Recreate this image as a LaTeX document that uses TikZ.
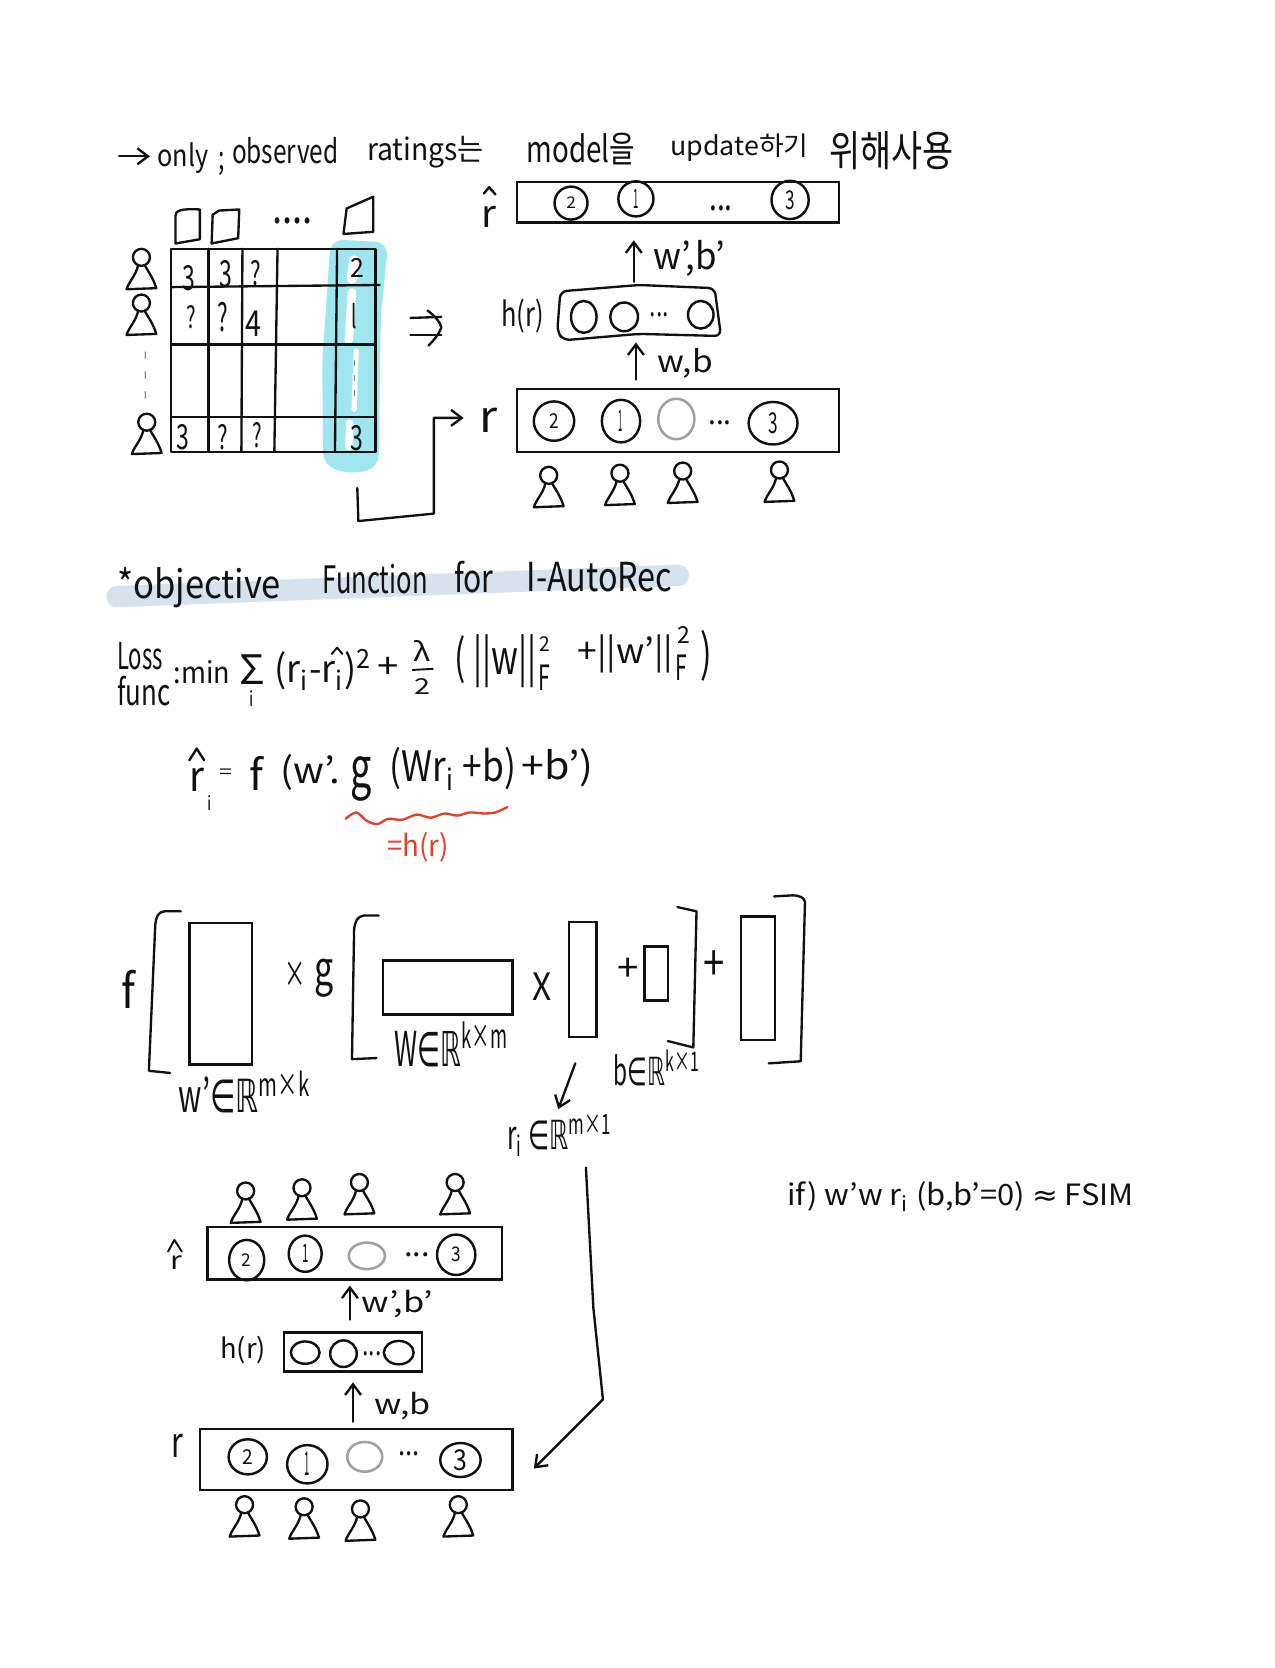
\documentclass[tikz,border=0pt]{standalone}
\usepackage{fontspec}
\usepackage{graphicx}
\setmainfont{Noto Sans CJK KR}
\newfontfamily\symf{DejaVu Sans}
\usetikzlibrary{arrows.meta,shapes.geometric}
\definecolor{ink}{HTML}{111111}
\definecolor{cyanmark}{HTML}{9FE6EF}
\definecolor{bluemark}{HTML}{D6E2ED}
\definecolor{redink}{HTML}{E0412E}
\definecolor{grayink}{HTML}{A0A0A0}
\newcommand{\hw}[6]{\node[anchor=center,inner sep=0pt,text=ink] (#1) at (#2,#3) {\resizebox*{#4pt}{#5pt}{#6}};}
\newcommand{\hwl}[6]{\node[anchor=west,inner sep=0pt,text=ink] (#1) at (#2,#3) {\resizebox*{#4pt}{#5pt}{#6}};}
\newcommand{\hwr}[6]{\node[anchor=west,inner sep=0pt,text=redink] (#1) at (#2,#3) {\resizebox*{#4pt}{#5pt}{#6}};}
\newcommand{\RR}{{\symf ℝ}}
\newcommand{\EL}{{\symf ∈}}
\tikzset{
  pen/.style={draw=ink,line width=2.2pt,line cap=round,line join=round},
  thin pen/.style={draw=ink,line width=1.8pt,line cap=round,line join=round},
  boxnode/.style={draw=ink,line width=2.4pt,inner sep=0pt,fill=none},
  ratecirc/.style={ellipse,draw=ink,line width=2.3pt,inner sep=0pt,text=ink},
  emptycirc/.style={ellipse,draw=grayink,line width=2.4pt,inner sep=0pt},
  holecirc/.style={ellipse,draw=ink,line width=2.3pt,inner sep=0pt},
  arr/.style={pen,-{Straight Barb[length=10pt,width=15pt,line width=2.2pt]}},
  person/.pic={
    \draw[pen] (0,-13) circle (8);
    \draw[pen] (-3,-6) .. controls (-5,4) and (-12,10) .. (-14,17) -- (14,16) .. controls (11,6) and (6,0) .. (3,-6);
  }
}
\begin{document}
\begin{tikzpicture}[x=1pt,y=-1pt]
\useasboundingbox (0,0) rectangle (1199,1568.6);
% --- heading
\coordinate (hs) at (112,147); \coordinate (he) at (141,147);
\draw[arr] (hs) -- (he);
\hwl{t1}{148}{149}{48}{29}{only}
\hwl{t1b}{205}{154}{6}{22}{;}
\hwl{t2}{218}{142}{100}{25}{observed}
\hwl{t3}{345}{143}{110}{30}{ratings는}
\hwl{t4}{495}{140}{102}{30}{model을}
\hwl{t5}{630}{139}{130}{26}{update하기}
\hwl{t6}{780}{142}{117}{36}{위해사용}
% --- matrix highlight
\fill[cyanmark,rounded corners=12pt] (311,225) -- (365,228) -- (358,300) -- (356,440) -- (330,446) -- (304,438) -- (303,340) -- cycle;
\draw[white,line width=10pt,line cap=round] (333,245) -- (331,262);
\draw[white,line width=8pt,line cap=round] (331,275) -- (328,320);
\draw[white,line width=5pt,line cap=round] (335,330) -- (333,385);
\draw[white,line width=7pt,line cap=round] (329,398) -- (328,420);
% --- grid
\draw[pen] (161,234) rectangle (353,425);
\draw[pen] (161,270) -- (357,268);
\draw[pen] (161,324) -- (353,324);
\draw[pen] (161,392) -- (353,392);
\draw[pen] (196,234) -- (196,425);
\draw[pen] (228,234) -- (227,425);
\draw[pen] (261,234) -- (258,425);
\draw[pen] (317,234) -- (315,425);
\hw{c11}{178}{262}{12}{24}{3}
\hw{c12}{212}{258}{12}{26}{3}
\hw{c13}{241}{257}{10}{24}{?}
\hw{c15}{336}{252}{13}{18}{2}
\hw{c21}{180}{298}{9}{22}{?}
\hw{c22}{210}{298}{10}{28}{?}
\hw{c23}{238}{304}{15}{24}{4}
\hw{c25}{333}{297}{5}{24}{l}
\hw{c35}{334}{356}{5}{34}{\symf ⋮}
\hw{c41}{172}{411}{12}{24}{3}
\hw{c42}{210}{411}{10}{24}{?}
\hw{c43}{242}{409}{9}{24}{?}
\hw{c45}{336}{412}{12}{24}{3}
% --- books
\draw[pen] (165,229) -- (165,203) .. controls (165,198) and (170,196) .. (188,197) -- (188,225) -- cycle;
\draw[pen] (199,229) -- (200,202) -- (206,198) -- (225,197) -- (224,224) -- cycle;
\draw[pen] (323,220) -- (326,196) -- (351,185) -- (351,218) -- cycle;
\hw{bdots}{275}{208}{38}{6}{....}
% --- left persons
\pic at (133,255) {person};
\pic at (133,298) {person};
\hw{pd}{137}{353}{6}{44}{\symf ⋮}
\pic at (138,410) {person};
% --- right network, top
\node[boxnode,minimum width=303pt,minimum height=38pt] (rhatA) at (637.5,190) {};
\node[ratecirc,minimum width=31pt,minimum height=31pt] (a2) at (537,191) {\resizebox*{9pt}{11pt}{2}};
\node[ratecirc,minimum width=33pt,minimum height=33pt] (a1) at (598,187) {\resizebox*{5pt}{18pt}{1}};
\hw{adots}{678}{196}{22}{5}{...}
\node[ratecirc,minimum width=35pt,minimum height=36pt] (a3) at (743,188) {\resizebox*{9pt}{18pt}{3}};
\draw[pen] (455,182) -- (460,176) -- (466,183);
\hw{rhatAl}{460}{204}{14}{20}{r}
\coordinate (upA) at (596,265); \coordinate (upB) at (596,226);
\draw[arr] (upA) -- (upB);
\hwl{wbp}{614}{243}{68}{34}{w',b'}
\draw[pen,rounded corners=6pt] (527,274) -- (601,268) -- (672,271) -- (678,316) -- (601,314) -- (530,320) -- (524,312) -- cycle;
\node[holecirc,minimum width=24pt,minimum height=30pt] (h1) at (549,298) {};
\node[holecirc,minimum width=26pt,minimum height=27pt] (h2) at (587,298) {};
\hw{hdots}{620}{296}{18}{4}{...}
\node[holecirc,minimum width=24pt,minimum height=26pt] (h3) at (659,296) {};
\hwl{hrA}{471}{297}{40}{32}{h(r)}
\coordinate (upC) at (598,357); \coordinate (upD) at (598,322);
\draw[arr] (upC) -- (upD);
\hwl{wb}{618}{342}{52}{28}{w,b}
\node[boxnode,minimum width=303pt,minimum height=59pt] (rA) at (637.5,395.5) {};
\node[ratecirc,minimum width=38pt,minimum height=37pt] (r2) at (521,396) {\resizebox*{9pt}{14pt}{2}};
\node[ratecirc,minimum width=36pt,minimum height=40pt] (r1) at (584,396) {\resizebox*{4pt}{20pt}{1}};
\node[emptycirc,minimum width=34pt,minimum height=38pt] (r0) at (636,394) {};
\hw{rdots}{677}{398}{22}{4}{...}
\node[ratecirc,minimum width=46pt,minimum height=40pt] (r3) at (727,398) {\resizebox*{9pt}{20pt}{3}};
\hw{rAl}{459}{395}{17}{23}{r}
\coordinate (lk1) at (336,459); \coordinate (lk2) at (337,490); \coordinate (lk3) at (408,483); \coordinate (lk4) at (408,393); \coordinate (lk5) at (436,393);
\draw[arr] (lk1) -- (lk2) -- (lk3) -- (lk4) -- (lk5);
\draw[pen] (386,299) -- (415,298);
\draw[pen] (386,315) -- (415,315);
\draw[pen] (402,292) .. controls (410,298) and (414,303) .. (415,308) .. controls (413,314) and (408,320) .. (403,325);
\pic at (516,460) {person};
\pic at (583,458) {person};
\pic at (642,456) {person};
\pic at (733,455) {person};
% --- objective heading
\draw[bluemark,line width=20pt,line cap=round] (110,561) -- (638,541);
\hwl{o1}{110}{553}{154}{38}{*objective}
\hwl{o2}{303}{545}{99}{28}{Function}
\hwl{o3}{427}{543}{37}{30}{for}
\hwl{o4}{495}{543}{137}{28}{I-AutoRec}
% --- loss
\hwl{l1}{110}{617}{43}{26}{Loss}
\hwl{l2}{110}{650}{50}{28}{func}
\hwl{l3}{163}{632}{53}{22}{:min}
\hw{l4}{237}{630}{24}{28}{Σ}
\hw{l5}{237}{657}{4}{15}{i}
\hwl{l6}{258}{630}{92}{38}{(r\textsubscript{i}-r\textsubscript{i})\textsuperscript{2}}
\draw[thin pen] (312,615) -- (317,609) -- (322,615);
\hw{l7}{365}{628}{20}{20}{+}
\hw{l8}{397}{612}{16}{20}{λ}
\draw[thin pen] (388,630) -- (407,629);
\hw{l9}{397}{646}{15}{15}{2}
\hwl{l10}{427}{622}{77}{50}{( ||w||}
\hw{l11}{512}{606}{10}{14}{2}
\hw{l12}{512}{637}{11}{24}{F}
\hwl{l13}{543}{615}{90}{36}{+||w'||}
\hw{l14}{643}{597}{12}{16}{2}
\hw{l15}{641}{628}{11}{24}{F}
\hw{l16}{664}{617}{11}{48}{)}
% --- prediction
\draw[pen] (178,715) -- (185,704) -- (192,715);
\hw{e1}{185}{733}{14}{22}{r}
\hw{e2}{197}{755}{4}{14}{i}
\hw{e3}{212}{728}{12}{9}{=}
\hw{e4}{241}{727}{13}{32}{f}
\hwl{e5}{264}{726}{56}{34}{(w'.}
\hw{e6}{340}{733}{20}{42}{g}
\hwl{e7}{366}{723}{119}{40}{(Wr\textsubscript{i} +b)}
\hwl{e8}{490}{722}{68}{36}{+b')}
\draw[draw=redink,line width=2.2pt,line cap=round,line join=round] plot[smooth] coordinates {(325,770)(335,764)(345,772)(355,775)(365,770)(378,771)(392,766)(405,769)(418,765)(430,767)(442,764)(455,765)(466,764)(477,759)};
\hwr{e9}{364}{797}{58}{28}{=h(r)}
% --- matrices
\hw{m1}{121}{930}{13}{36}{f}
\draw[pen] (170,857) -- (155,857) .. controls (148,858) and (147,862) .. (146,870) -- (140,1007) -- (160,1009);
\node[boxnode,minimum width=59pt,minimum height=133pt] (wp) at (207.5,934.5) {};
\hw{m2}{278}{917}{20}{24}{×}
\hw{m3}{305}{920}{18}{36}{g}
\draw[pen] (356,861) -- (342,861) .. controls (336,862) and (334,866) .. (333,874) -- (331,996) -- (354,995);
\node[boxnode,minimum width=122pt,minimum height=51pt] (wm) at (421,928.5) {};
\hw{m4}{510}{928}{18}{26}{X}
\node[boxnode,minimum width=26pt,minimum height=108pt] (rv) at (548,921) {};
\hw{m5}{591}{912}{20}{22}{+}
\node[boxnode,minimum width=22pt,minimum height=51pt] (bv) at (617,915.5) {};
\draw[pen] (637,853) -- (655,857) -- (652,985) -- (628,979);
\hw{m6}{672}{908}{20}{28}{+}
\node[boxnode,minimum width=32pt,minimum height=116pt] (bpv) at (713,920) {};
\draw[pen] (728,843) -- (745,842) .. controls (752,842) and (756,844) .. (757,848) -- (753,998) -- (723,1000);
\hwl{m7}{168}{1027}{124}{40}{w'\EL\RR\textsuperscript{m×k}}
\hwl{m8}{371}{982}{107}{42}{W\EL\RR\textsuperscript{k×m}}
\hwl{m9}{577}{1004}{81}{34}{b\EL\RR\textsuperscript{k×1}}
\coordinate (ra1) at (541,1000); \coordinate (ra2) at (525,1043);
\draw[arr] (ra1) -- (ra2);
\hwl{m10}{477}{1068}{98}{40}{r\textsubscript{i} \EL\RR\textsuperscript{m×1}}
\coordinate (la1) at (551,1098); \coordinate (la2) at (558,1230); \coordinate (la3) at (567,1316); \coordinate (la4) at (502,1381);
\draw[arr] (la1) -- (la2) -- (la3) -- (la4);
\hwl{ifl}{740}{1125}{326}{28}{if) w'w r\textsubscript{i} (b,b'=0) {\symf ≈} FSIM}
% --- bottom network
\pic at (231,1133) {person};
\pic at (284,1130) {person};
\pic at (338,1125) {person};
\pic at (428,1125) {person};
\node[boxnode,minimum width=277pt,minimum height=49pt] (rhatB) at (333.5,1178.5) {};
\node[ratecirc,minimum width=33pt,minimum height=38pt] (b2) at (232,1185) {\resizebox*{9pt}{12pt}{2}};
\node[ratecirc,minimum width=31pt,minimum height=34pt] (b1) at (287,1179) {\resizebox*{6pt}{17pt}{1}};
\node[emptycirc,minimum width=34pt,minimum height=25pt] (b0) at (345,1181) {};
\hw{bd}{392}{1180}{24}{4}{...}
\node[ratecirc,minimum width=36pt,minimum height=38pt] (b3) at (429,1180) {\resizebox*{9pt}{14pt}{3}};
\draw[thin pen] (158,1177) -- (164,1166) -- (171,1177);
\hw{rhb}{166}{1187}{11}{13}{r}
\coordinate (ub1) at (329,1241); \coordinate (ub2) at (329,1209);
\draw[arr] (ub1) -- (ub2);
\hwl{wbp2}{340}{1226}{67}{26}{w',b'}
\hwl{hr2}{207}{1270}{43}{26}{h(r)}
\node[boxnode,minimum width=130pt,minimum height=37pt] (hB) at (332,1271.5) {};
\node[holecirc,minimum width=27pt,minimum height=21pt] (hb1) at (287,1272) {};
\node[holecirc,minimum width=25pt,minimum height=25pt] (hb2) at (323,1273) {};
\hw{hbd}{350}{1273}{18}{4}{...}
\node[holecirc,minimum width=28pt,minimum height=22pt] (hb3) at (375,1272) {};
\coordinate (ub3) at (332,1337); \coordinate (ub4) at (332,1300);
\draw[arr] (ub3) -- (ub4);
\hwl{wb2}{352}{1322}{53}{26}{w,b}
\hw{rb}{167}{1360}{11}{22}{r}
\node[boxnode,minimum width=294pt,minimum height=57pt] (rB) at (335,1372.5) {};
\node[ratecirc,minimum width=36pt,minimum height=33pt] (q2) at (233,1370) {\resizebox*{10pt}{14pt}{2}};
\node[ratecirc,minimum width=38pt,minimum height=36pt] (q1) at (289,1377) {\resizebox*{5pt}{22pt}{1}};
\node[emptycirc,minimum width=33pt,minimum height=28pt] (q0) at (343,1370) {};
\hw{qd}{385}{1367}{20}{4}{...}
\node[ratecirc,minimum width=38pt,minimum height=32pt] (q3) at (433,1373) {\resizebox*{13pt}{20pt}{3}};
\pic at (230,1428) {person};
\pic at (286,1430) {person};
\pic at (339,1432) {person};
\pic at (431,1428) {person};
\end{tikzpicture}
\end{document}
